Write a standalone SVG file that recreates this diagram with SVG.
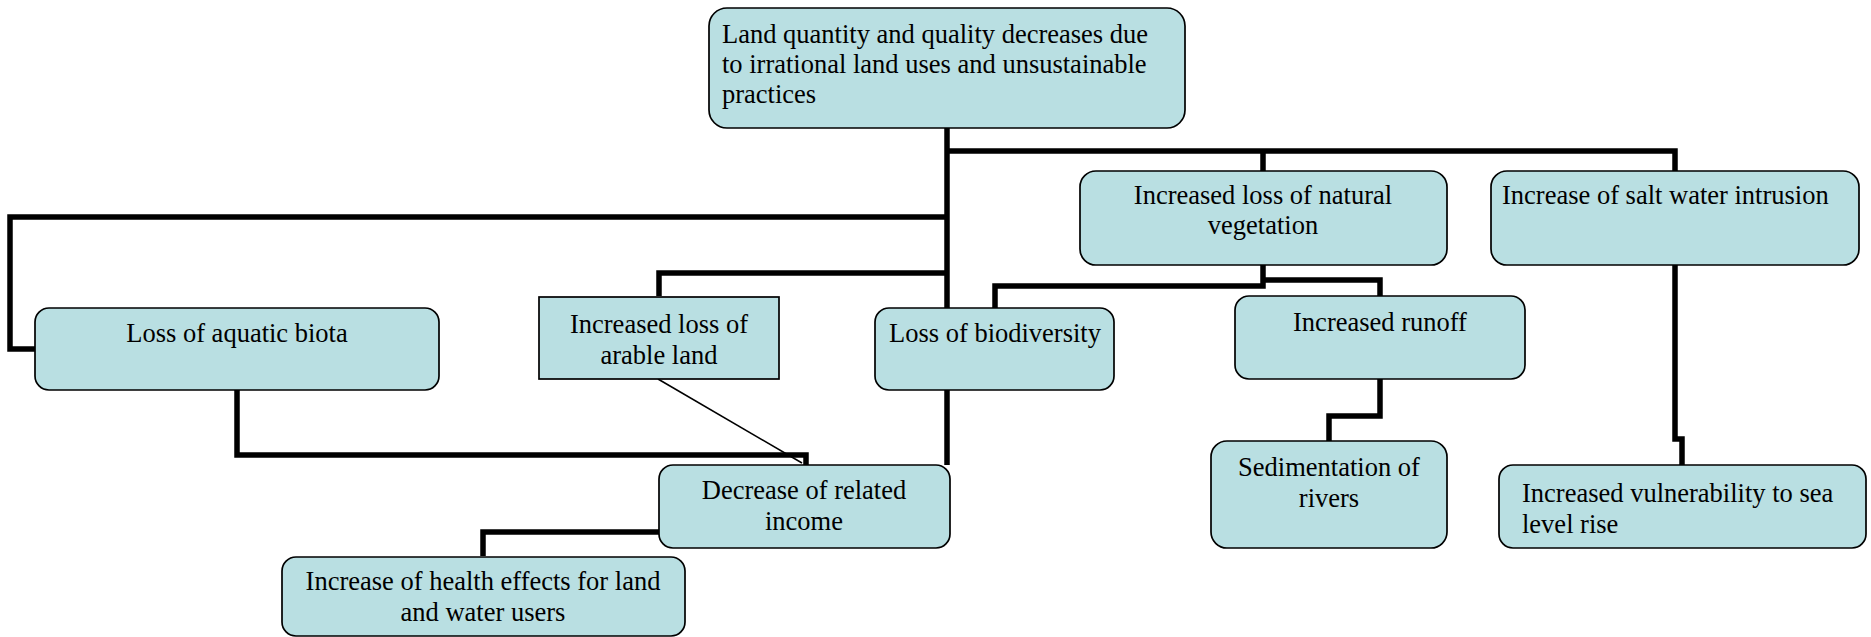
<svg xmlns="http://www.w3.org/2000/svg" width="1871" height="637" viewBox="0 0 1871 637">
<style>
.box{fill:#b9dfe2;stroke:#000;stroke-width:1.7}
.t{font-size:26.5px;fill:#000}
.c{text-anchor:middle}
.con{fill:none;stroke:#000;stroke-width:5.5;stroke-linejoin:miter}
.thin{fill:none;stroke:#000;stroke-width:1.6}
</style>
<rect width="1871" height="637" fill="#fff"/>
<g id="connectors">
<path class="con" d="M947,128 V465"/>
<path class="con" d="M947,151 H1675 V171 M1263,151 V171"/>
<path class="con" d="M947,217 H10 V349 H35"/>
<path class="con" d="M947,273 H659 V296"/>
<path class="con" d="M237,390 V455 H806 V465"/>
<path class="thin" d="M658,379 L802,463"/>
<path class="con" d="M659,532 H483 V556"/>
<path class="con" d="M1263,265 V286 H995 V308"/>
<path class="con" d="M1263,280 H1380 V296"/>
<path class="con" d="M1380,379 V416 H1329 V441"/>
<path class="con" d="M1675,265 V439 H1682 V465"/>
</g>
<g id="nodes" font-family="'Liberation Serif', 'Times New Roman', 'DejaVu Serif', serif">
<g id="n-top">
<rect class="box" x="709" y="8" width="476" height="120" rx="18"/>
<text class="t" x="722" y="43">Land quantity and quality decreases due</text>
<text class="t" x="722" y="73">to irrational land uses and unsustainable</text>
<text class="t" x="722" y="103">practices</text>
</g>
<g id="n-vegetation">
<rect class="box" x="1080" y="171" width="367" height="94" rx="16"/>
<text class="t c" x="1263" y="204">Increased loss of natural</text>
<text class="t c" x="1263" y="234">vegetation</text>
</g>
<g id="n-salt">
<rect class="box" x="1491" y="171" width="368" height="94" rx="16"/>
<text class="t" x="1502" y="204">Increase of salt water intrusion</text>
</g>
<g id="n-aquatic">
<rect class="box" x="35" y="308" width="404" height="82" rx="14"/>
<text class="t c" x="237" y="342">Loss of aquatic biota</text>
</g>
<g id="n-arable">
<rect class="box" x="539" y="297" width="240" height="82"/>
<text class="t c" x="659" y="333">Increased loss of</text>
<text class="t c" x="659" y="364">arable land</text>
</g>
<g id="n-biodiversity">
<rect class="box" x="875" y="308" width="239" height="82" rx="14"/>
<text class="t c" x="995" y="342">Loss of biodiversity</text>
</g>
<g id="n-runoff">
<rect class="box" x="1235" y="296" width="290" height="83" rx="14"/>
<text class="t c" x="1380" y="331">Increased runoff</text>
</g>
<g id="n-income">
<rect class="box" x="659" y="465" width="291" height="83" rx="14"/>
<text class="t c" x="804" y="499">Decrease of related</text>
<text class="t c" x="804" y="530">income</text>
</g>
<g id="n-sedimentation">
<rect class="box" x="1211" y="441" width="236" height="107" rx="16"/>
<text class="t c" x="1329" y="476">Sedimentation of</text>
<text class="t c" x="1329" y="507">rivers</text>
</g>
<g id="n-vulnerability">
<rect class="box" x="1499" y="465" width="367" height="83" rx="14"/>
<text class="t" x="1522" y="502">Increased vulnerability to sea</text>
<text class="t" x="1522" y="533">level rise</text>
</g>
<g id="n-health">
<rect class="box" x="282" y="557" width="403" height="79" rx="14"/>
<text class="t c" x="483" y="590">Increase of health effects for land</text>
<text class="t c" x="483" y="621">and water users</text>
</g>
</g>
</svg>
